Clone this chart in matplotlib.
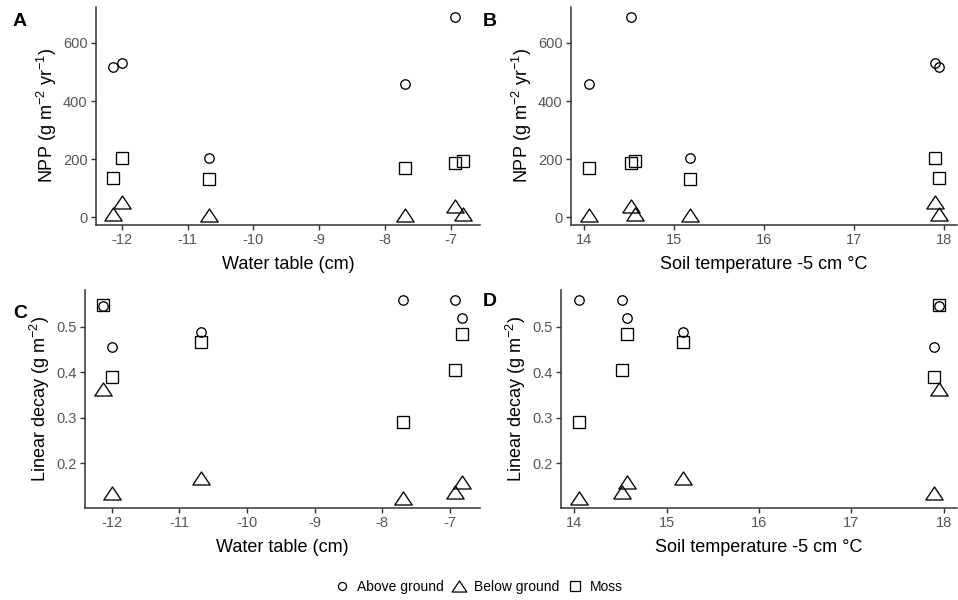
import numpy as np
import matplotlib
matplotlib.use("Agg")
import matplotlib.pyplot as plt
from matplotlib.lines import Line2D
from matplotlib.path import Path

plt.rcParams['font.family'] = ['Liberation Sans', 'DejaVu Sans']
plt.rcParams['mathtext.fontset'] = 'custom'
plt.rcParams['mathtext.rm'] = 'Liberation Sans'
plt.rcParams['mathtext.it'] = 'Liberation Sans'
plt.rcParams['axes.unicode_minus'] = False

# ---- data (six sites) ----
water_table = [-12.13, -12.0, -10.68, -7.70, -6.93, -6.82]
soil_temp = [17.95, 17.90, 15.18, 14.05, 14.52, 14.57]
npp_above = [518, 532, 205, 460, 689, np.nan]
npp_below = [12, 52, 8, 9, 40, 12]
npp_moss = [137, 204, 131, 171, 188, 194]
decay_above = [0.545, 0.456, 0.488, 0.559, 0.559, 0.520]
decay_below = [0.364, 0.136, 0.169, 0.124, 0.137, 0.160]
decay_moss = [0.547, 0.390, 0.467, 0.292, 0.406, 0.485]

series_names = ["Above ground", "Below ground", "Moss"]
wt_ticks = [-12, -11, -10, -9, -8, -7]
st_ticks = [14, 15, 16, 17, 18]
npp_ticks = [0, 200, 400, 600]
decay_ticks = [0.2, 0.3, 0.4, 0.5]

W, H = 958, 600
fig = plt.figure(figsize=(W / 100, H / 100), dpi=100)

tri = Path([(0, 0.75), (-1, -0.75), (1, -0.75), (0, 0.75)],
           [Path.MOVETO, Path.LINETO, Path.LINETO, Path.CLOSEPOLY])
styles = [
    dict(marker='o', markersize=6.8),
    dict(marker=tri, markersize=12.5),
    dict(marker='s', markersize=8.3),
]
tick_col = '#555555'

def add_axes(l, r, t, b):
    return fig.add_axes([l / W, 1 - b / H, (r - l) / W, (b - t) / H])

def style(ax, xticks, yticks, xlabel, ylabel, yfmt):
    for s in ['top', 'right']:
        ax.spines[s].set_visible(False)
    for s in ['left', 'bottom']:
        ax.spines[s].set_color('#333333')
        ax.spines[s].set_linewidth(1.1)
    ax.set_xticks(xticks)
    ax.set_xticklabels([str(v) for v in xticks])
    ax.set_yticks(yticks)
    ax.set_yticklabels([yfmt(v) for v in yticks])
    ax.tick_params(axis='both', colors='#333333', labelcolor=tick_col,
                   labelsize=10.5, length=3.5, width=1.0, pad=2.5)
    ax.set_xlabel(xlabel, fontsize=13, color='black', labelpad=6)
    ax.set_ylabel(ylabel, fontsize=13, color='black', labelpad=3)
    ax.margins(x=0.05, y=0.05)

def scatter(ax, x, ys):
    for y, st in zip(ys, styles):
        ax.plot(x, y, linestyle='none', markerfacecolor='none',
                markeredgecolor='black', markeredgewidth=0.95, **st)

npp_label = "NPP (g m$^{-2}$ yr$^{-1}$)"
decay_label = "Linear decay (g m$^{-2}$)"

axA = add_axes(96, 480, 7, 225)
scatter(axA, water_table, [npp_above, npp_below, npp_moss])
style(axA, wt_ticks, npp_ticks, "Water table (cm)", npp_label, lambda v: f"{v:d}")

axB = add_axes(571, 957, 7, 225)
scatter(axB, soil_temp, [npp_above, npp_below, npp_moss])
style(axB, st_ticks, npp_ticks, "Soil temperature -5 cm \u00b0C", npp_label, lambda v: f"{v:d}")

axC = add_axes(85, 480, 290, 508)
scatter(axC, water_table, [decay_above, decay_below, decay_moss])
style(axC, wt_ticks, decay_ticks, "Water table (cm)", decay_label, lambda v: f"{v:.1f}")

axD = add_axes(561, 957, 290, 508)
scatter(axD, soil_temp, [decay_above, decay_below, decay_moss])
style(axD, st_ticks, decay_ticks, "Soil temperature -5 cm \u00b0C", decay_label, lambda v: f"{v:.1f}")

for lab, x, y in [("A", 13, 21), ("B", 483, 21), ("C", 13, 314), ("D", 483, 301)]:
    fig.text(x / W, 1 - y / H, lab, fontsize=14, fontweight='bold',
             ha='left', va='center')

handles = [Line2D([], [], linestyle='none', markerfacecolor='none',
                  markeredgecolor='black', markeredgewidth=0.9,
                  marker=st['marker'], markersize=st['markersize'] * 0.85)
           for st in styles]
fig.legend(handles, series_names, loc='center', ncol=3,
           bbox_to_anchor=(0.5, 1 - 587 / H), frameon=False, fontsize=10,
           handlelength=1.0, handletextpad=0.6, columnspacing=0.6)

fig.savefig("out.png", dpi=100)
